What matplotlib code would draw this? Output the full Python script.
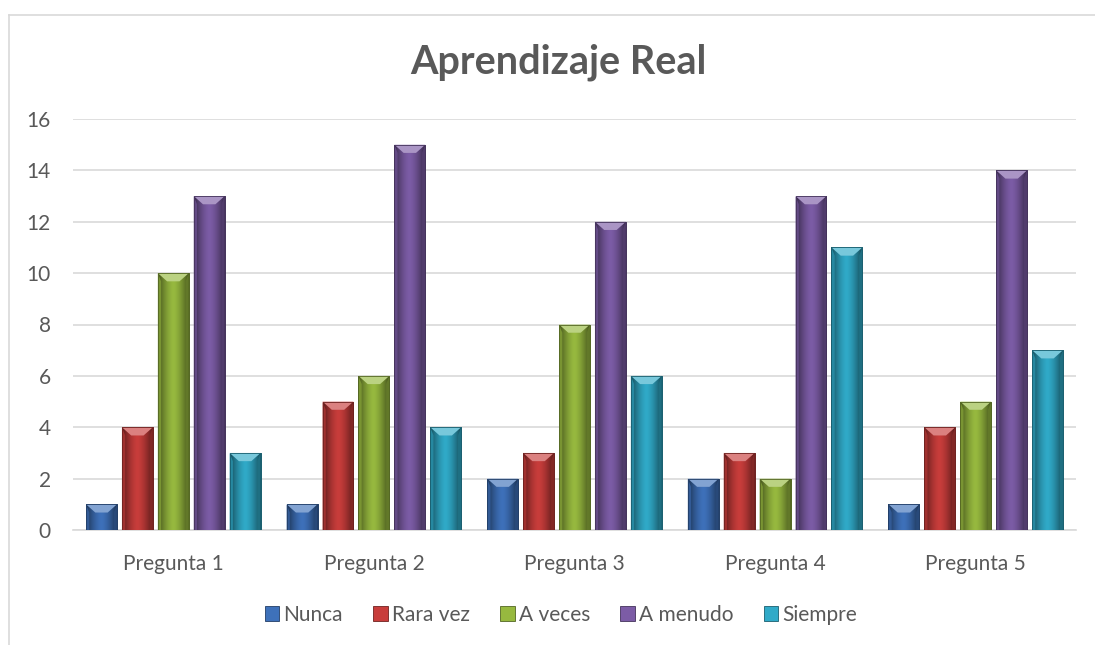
import matplotlib
matplotlib.use("Agg")
import matplotlib.pyplot as plt
import numpy as np
from matplotlib.patches import Polygon, Rectangle
from matplotlib.colors import to_rgb

categories = ["Pregunta 1", "Pregunta 2", "Pregunta 3", "Pregunta 4", "Pregunta 5"]
series_names = ["Nunca", "Rara vez", "A veces", "A menudo", "Siempre"]
nunca = [1, 1, 2, 2, 1]
rara_vez = [4, 5, 3, 3, 4]
a_veces = [10, 6, 8, 2, 5]
a_menudo = [13, 15, 12, 13, 14]
siempre = [3, 4, 6, 11, 7]
series_values = [nunca, rara_vez, a_veces, a_menudo, siempre]
colors = ["#3E71BA", "#C83D3B", "#97B93F", "#7C5CA6", "#30AAC8"]
yticks = [0, 2, 4, 6, 8, 10, 12, 14, 16]

plt.rcParams['font.family'] = ['Lato', 'DejaVu Sans']
text_color = "#595959"

fig = plt.figure(figsize=(10.95, 6.45), dpi=100)
ax = fig.add_axes([73/1095, 1-530/645, (1076-73)/1095, (530-119)/645])

# chart border (left & top visible)
fig.add_artist(plt.Line2D([9/1095, 9/1095], [0, 1-15/645], color="#D9D9D9", lw=1.2, transform=fig.transFigure))
fig.add_artist(plt.Line2D([9/1095, 1], [1-15/645, 1-15/645], color="#D9D9D9", lw=1.2, transform=fig.transFigure))

x = np.arange(len(categories))
step = 0.179
width = 0.154

def shade(c, f):
    r = np.array(to_rgb(c))
    if f < 0:
        return tuple(r * (1 + f))
    return tuple(r + (1 - r) * f)

for si, (name, vals, col) in enumerate(zip(series_names, series_values, colors)):
    offs = (si - 2) * step
    bars = ax.bar(x + offs, vals, width=width, color=col, edgecolor=shade(col, -0.45),
                  linewidth=0.6, label=name, zorder=3)
    for b in bars:
        bx, by, bw, bh = b.get_x(), b.get_y(), b.get_width(), b.get_height()
        n = 64
        t = np.linspace(0, 1, n)
        prof = 1 - 0.55 * np.abs(t - 0.5) ** 1.5 * 2.8
        base = np.array(to_rgb(col))
        img = np.clip(base[None, :] * prof[:, None], 0, 1)[None, :, :]
        im = ax.imshow(img, extent=[bx, bx + bw, by, by + bh], aspect='auto', zorder=3.1,
                       interpolation='bilinear')
        im.set_clip_path(b)
        inset = bw * 0.30
        depth = min(0.32, bh * 0.5)
        top = Polygon([[bx, by + bh], [bx + bw, by + bh], [bx + bw - inset, by + bh - depth],
                       [bx + inset, by + bh - depth]], closed=True,
                      facecolor=shade(col, 0.35), edgecolor='none', zorder=3.2)
        ax.add_patch(top)
        lb = Polygon([[bx, by], [bx, by + bh], [bx + inset * 0.35, by + bh - depth],
                      [bx + inset * 0.35, by]], closed=True,
                     facecolor=shade(col, -0.2), edgecolor='none', zorder=3.2)
        rb = Polygon([[bx + bw, by], [bx + bw, by + bh], [bx + bw - inset * 0.35, by + bh - depth],
                      [bx + bw - inset * 0.35, by]], closed=True,
                     facecolor=shade(col, -0.35), edgecolor='none', zorder=3.2)
        ax.add_patch(lb)
        ax.add_patch(rb)
        ax.add_patch(Rectangle((bx, by), bw, bh, facecolor='none', edgecolor=shade(col, -0.45),
                               lw=0.6, zorder=3.3))

ax.set_xlim(-0.5, len(categories) - 0.5)
ax.set_ylim(0, 16)
ax.set_yticks(yticks)
ax.set_yticklabels([str(v) for v in yticks])
ax.set_xticks(x)
ax.set_xticklabels(categories)
ax.yaxis.grid(True, color="#D9D9D9", lw=1.2, zorder=0)
ax.set_axisbelow(True)
for s in ["top", "right", "left"]:
    ax.spines[s].set_visible(False)
ax.spines["bottom"].set_color("#D9D9D9")
ax.spines["bottom"].set_linewidth(1.2)
ax.tick_params(axis='both', length=0, labelsize=15, colors=text_color, labelcolor=text_color)
ax.tick_params(axis='y', pad=16)
ax.tick_params(axis='x', pad=17)

fig.text(558/1095, 1-62/645, "Aprendizaje Real", ha='center', va='center', fontsize=28.5,
         fontweight='bold', color=text_color)

handles, labels = ax.get_legend_handles_labels()
leg = fig.legend(handles, labels, loc='center', bbox_to_anchor=(561/1095, 1-615/645), ncol=5,
                 frameon=False, fontsize=15, handlelength=0.7, handleheight=0.7,
                 handletextpad=0.2, columnspacing=1.45, labelcolor=text_color)

fig.savefig("out.png", dpi=100)
